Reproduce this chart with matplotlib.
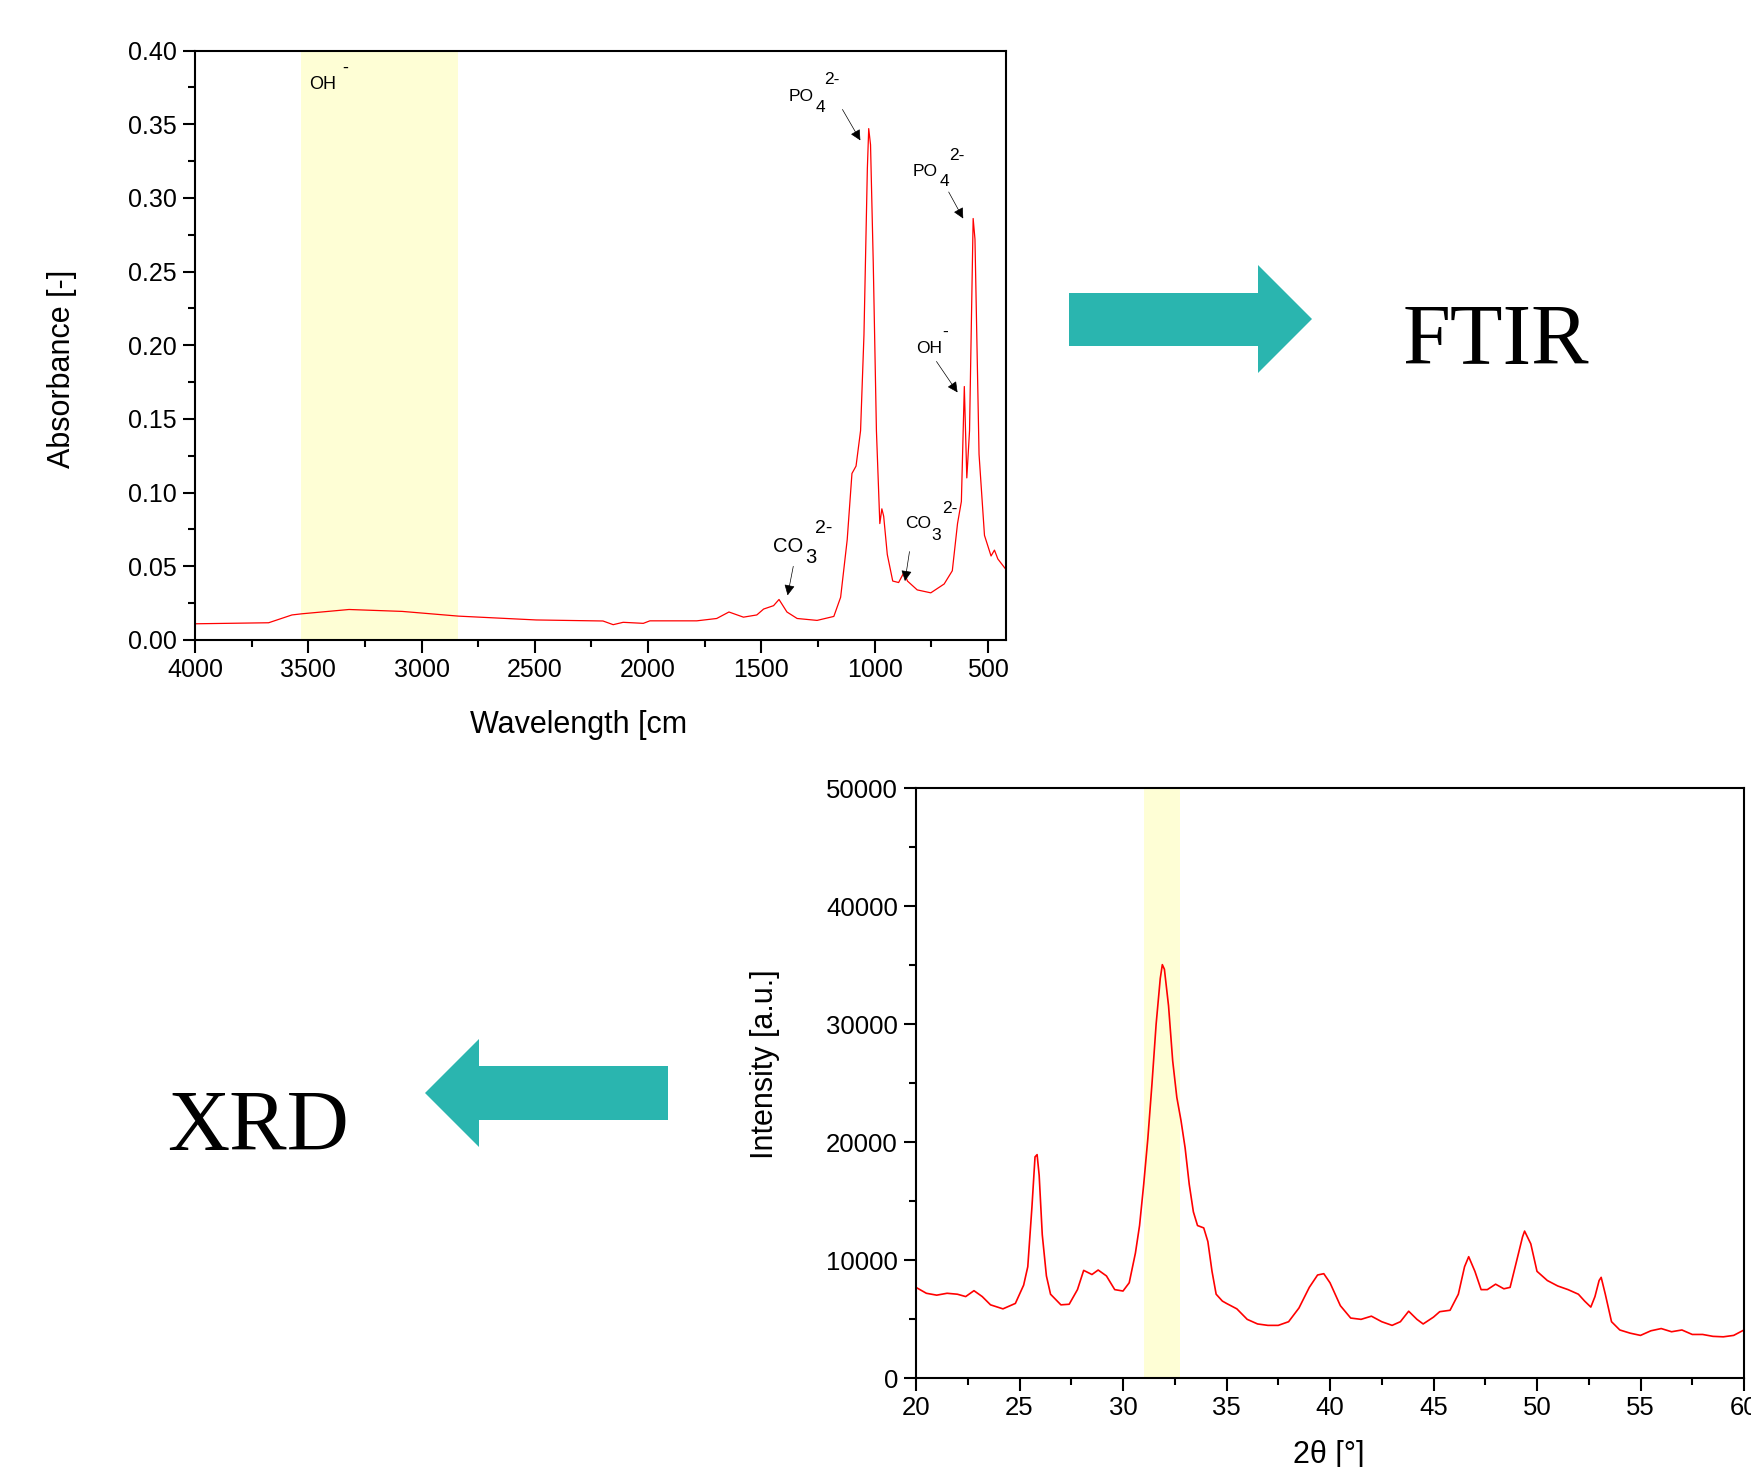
import matplotlib.pyplot as plt
from matplotlib.patches import Polygon
from matplotlib.ticker import MultipleLocator, FormatStrFormatter

# FTIR spectrum (wavenumber cm-1, absorbance)
ftir_wn = [4000, 3675, 3572, 3527, 3320, 3085, 2837, 2494, 2199, 2154, 2110, 2021,
           1992, 1785, 1697, 1643, 1579, 1520, 1490, 1446, 1422, 1387, 1342, 1254,
           1180, 1150, 1121, 1100, 1082, 1062, 1047, 1032, 1026, 1018, 1006, 992,
           977, 968, 960, 944, 920, 894, 870, 855, 812, 752, 693, 657, 634, 617,
           604, 593, 581, 565, 557, 539, 515, 486, 471, 456, 421]
ftir_abs = [0.011, 0.0117, 0.017, 0.0178, 0.0207, 0.0194, 0.0162, 0.0136, 0.0129, 0.0104,
            0.012, 0.0113, 0.013, 0.013, 0.0146, 0.019, 0.0155, 0.017, 0.021, 0.0233,
            0.0275, 0.019, 0.0146, 0.0133, 0.016, 0.029, 0.068, 0.113, 0.118, 0.142,
            0.207, 0.320, 0.347, 0.336, 0.256, 0.142, 0.079, 0.089, 0.084, 0.058,
            0.040, 0.039, 0.046, 0.040, 0.034, 0.032, 0.038, 0.047, 0.079, 0.094,
            0.172, 0.110, 0.142, 0.286, 0.272, 0.126, 0.071, 0.057, 0.061, 0.055, 0.048]

# XRD pattern (2theta, intensity)
xrd_2theta = [20.0, 20.5, 21.0, 21.5, 22.0, 22.4, 22.8, 23.2, 23.6, 24.2, 24.8, 25.2,
              25.4, 25.6, 25.75, 25.85, 25.95, 26.1, 26.3, 26.5, 27.0, 27.4, 27.8, 28.1,
              28.5, 28.8, 29.2, 29.6, 30.0, 30.3, 30.6, 30.8, 31.0, 31.2, 31.4, 31.6,
              31.8, 31.9, 32.0, 32.2, 32.4, 32.6, 32.8, 33.0, 33.2, 33.4, 33.6, 33.9,
              34.1, 34.3, 34.5, 34.8, 35.0, 35.5, 36.0, 36.5, 37.0, 37.5, 38.0, 38.5,
              39.0, 39.4, 39.7, 40.0, 40.5, 41.0, 41.5, 42.0, 42.5, 43.0, 43.4, 43.8,
              44.2, 44.5, 45.0, 45.3, 45.8, 46.2, 46.5, 46.7, 47.0, 47.3, 47.6, 48.0,
              48.4, 48.7, 49.0, 49.3, 49.4, 49.7, 50.0, 50.5, 51.0, 51.5, 52.0, 52.3,
              52.6, 52.8, 53.0, 53.1, 53.3, 53.6, 54.0, 54.5, 55.0, 55.5, 56.0, 56.5,
              57.0, 57.5, 58.0, 58.5, 59.0, 59.5, 60.0]
xrd_int = [7680, 7180, 7020, 7180, 7100, 6900, 7400, 6900, 6200, 5860, 6320, 7870,
           9430, 14470, 18740, 18930, 17180, 12140, 8650, 7100, 6200, 6250, 7490, 9120,
           8770, 9150, 8650, 7490, 7370, 8070, 10590, 12920, 16410, 20290, 24940, 29980,
           33860, 35030, 34640, 31540, 26880, 23780, 21840, 19510, 16410, 14080, 12920, 12720,
           11560, 9040, 7100, 6520, 6320, 5860, 4970, 4580, 4460, 4460, 4770, 5930,
           7680, 8730, 8840, 8070, 6130, 5080, 4970, 5240, 4770, 4460, 4770, 5660,
           4970, 4580, 5160, 5620, 5740, 7100, 9430, 10280, 9040, 7490, 7490, 7950,
           7560, 7680, 9810, 11950, 12450, 11370, 9040, 8260, 7800, 7490, 7100, 6520,
           6010, 6900, 8260, 8530, 7100, 4770, 4070, 3800, 3610, 4000, 4190, 3920,
           4070, 3690, 3690, 3530, 3490, 3610, 4070]

ftir_band = (3530, 2840)
xrd_band = (31.0, 32.75)

W, H = 1751, 1467
plt.rcParams['font.family'] = ['Liberation Sans', 'DejaVu Sans']
fig = plt.figure(figsize=(W / 100, H / 100), dpi=100)


def fx(x):
    return x / W


def fy(y):
    return 1 - y / H


def style_axes(ax, labelsize):
    for s in ax.spines.values():
        s.set_linewidth(1.5)
    ax.tick_params(which='major', direction='out', length=9, width=1.5,
                   labelsize=labelsize, pad=4, top=False, right=False)
    ax.tick_params(which='minor', direction='out', length=5, width=1.5,
                   top=False, right=False)


yellow = '#FEFED5'
teal = '#2AB5AF'

# ---- FTIR ----
ax1 = fig.add_axes([fx(195), fy(640), (1006 - 195) / W, (640 - 50.5) / H])
ax1.axvspan(*ftir_band, color=yellow, lw=0, zorder=0)
ax1.plot(ftir_wn, ftir_abs, color='#FF0000', lw=0.9)
ax1.set_xlim(4000, 420)
ax1.set_ylim(0, 0.40)
ax1.xaxis.set_major_locator(MultipleLocator(500))
ax1.xaxis.set_minor_locator(MultipleLocator(250))
ax1.yaxis.set_major_locator(MultipleLocator(0.05))
ax1.yaxis.set_minor_locator(MultipleLocator(0.025))
ax1.yaxis.set_major_formatter(FormatStrFormatter('%.2f'))
style_axes(ax1, 18)

arrow_kw = dict(arrowstyle='-|>', color='black', lw=0.5, mutation_scale=16,
                shrinkA=0, shrinkB=0)


def label(ax, x, y, text, size=12.5):
    ax.text(x, y, text, fontsize=size, ha='left', va='center')


# PO4 at main peak
label(ax1, 1379, 0.369, 'PO')
label(ax1, 1262, 0.361, '4')
label(ax1, 1221, 0.380, '2-')
ax1.annotate('', xy=(1063, 0.339), xytext=(1142, 0.360), arrowprops=arrow_kw)
# PO4 second peak
label(ax1, 831, 0.318, 'PO')
label(ax1, 715, 0.311, '4')
label(ax1, 673, 0.329, '2-')
ax1.annotate('', xy=(609, 0.286), xytext=(673, 0.304), arrowprops=arrow_kw)
# OH
label(ax1, 816, 0.198, 'OH')
label(ax1, 700, 0.209, '-')
ax1.annotate('', xy=(634, 0.168), xytext=(727, 0.189), arrowprops=arrow_kw)
# CO3 near 870
label(ax1, 866, 0.0788, 'CO')
label(ax1, 750, 0.071, '3')
label(ax1, 703, 0.0890, '2-')
ax1.annotate('', xy=(866, 0.040), xytext=(846, 0.060), arrowprops=arrow_kw)
# CO3 near 1420
label(ax1, 1448, 0.0636, 'CO', 14.5)
label(ax1, 1308, 0.0560, '3', 14.5)
label(ax1, 1262, 0.0755, '2-', 14)
ax1.annotate('', xy=(1384, 0.0303), xytext=(1359, 0.050), arrowprops=arrow_kw)
# OH band
label(ax1, 3497, 0.377, 'OH', 13)
label(ax1, 3350, 0.388, '-', 13)

fig.text(fx(62), fy(369), 'Absorbance [-]', fontsize=22, rotation=90,
         ha='center', va='center')
fig.text(fx(470), fy(733), 'Wavelength [cm', fontsize=22, ha='left', va='baseline')

# ---- XRD ----
ax2 = fig.add_axes([fx(916), fy(1378), (1744 - 916) / W, (1378 - 788) / H])
ax2.axvspan(*xrd_band, color=yellow, lw=0, zorder=0)
ax2.plot(xrd_2theta, xrd_int, color='#FF0000', lw=1.2)
ax2.set_xlim(20, 60)
ax2.set_ylim(0, 50000)
ax2.xaxis.set_major_locator(MultipleLocator(5))
ax2.xaxis.set_minor_locator(MultipleLocator(2.5))
ax2.yaxis.set_major_locator(MultipleLocator(10000))
ax2.yaxis.set_minor_locator(MultipleLocator(5000))
style_axes(ax2, 18.5)

fig.text(fx(765), fy(1064), 'Intensity [a.u.]', fontsize=22, rotation=90,
         ha='center', va='center')
fig.text(fx(1329), fy(1463), '2θ [°]', fontsize=22, ha='center', va='baseline')

# ---- block arrows and method labels ----
right_arrow = [(1069, 293), (1258, 293), (1258, 265), (1312, 319),
               (1258, 373), (1258, 346), (1069, 346)]
left_arrow = [(668, 1066), (479, 1066), (479, 1039), (425, 1093),
              (479, 1147), (479, 1120), (668, 1120)]
for pts in (right_arrow, left_arrow):
    fig.patches.append(Polygon([(fx(x), fy(y)) for x, y in pts], closed=True,
                               facecolor=teal, edgecolor='none',
                               transform=fig.transFigure, figure=fig))

fig.text(fx(1403), fy(364), 'FTIR', fontsize=62, family='Liberation Serif',
         ha='left', va='baseline')
fig.text(fx(167), fy(1150), 'XRD', fontsize=62, family='Liberation Serif',
         ha='left', va='baseline')

fig.savefig('out.png', dpi=100)
